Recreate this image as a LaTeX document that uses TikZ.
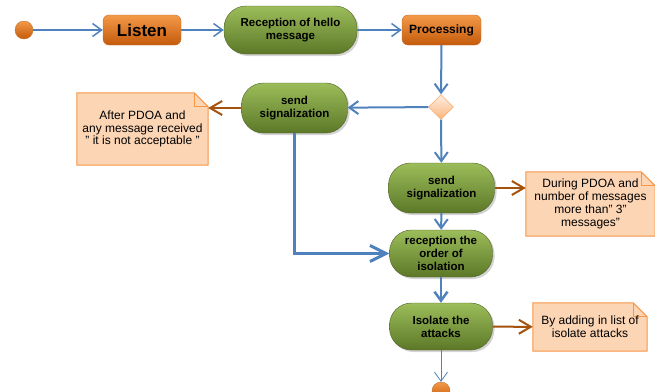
\documentclass[tikz,border=0pt]{standalone}
\usepackage{fontspec}
\setmainfont{Liberation Sans}
\usetikzlibrary{arrows.meta,shapes.geometric,shadows,backgrounds}

\definecolor{flowblue}{HTML}{4F81BD}
\definecolor{notebrown}{HTML}{A5520F}
\definecolor{orangetop}{HTML}{F39A48}
\definecolor{orangebot}{HTML}{C45A0C}
\definecolor{orangeline}{HTML}{C0702E}
\definecolor{greentop}{HTML}{9CBD5A}
\definecolor{greenbot}{HTML}{5C7828}
\definecolor{greenline}{HTML}{4F6228}
\definecolor{notefill}{HTML}{FCD5B5}
\definecolor{noteline}{HTML}{F79646}

\tikzset{
  stepbox/.style={rectangle, rounded corners=6pt, draw=orangeline, top color=orangetop,
    bottom color=orangebot, minimum height=30pt, inner sep=2pt,
    font=\fontsize{12}{12}\selectfont\bfseries},
  action/.style={rectangle, rounded corners=22pt, draw=greenline, top color=greentop,
    bottom color=greenbot, minimum height=48pt, inner sep=2pt, align=center,
    font=\fontsize{11.5}{13}\selectfont\bfseries,
    drop shadow={shadow xshift=2pt, shadow yshift=-2pt, opacity=0.35}},
  notebox/.style={rectangle, inner sep=2pt, align=center,
    font=\fontsize{12}{12.8}\selectfont},
  decision/.style={diamond, draw=noteline, top color=notefill!40,
    bottom color=noteline!70, minimum width=25pt, minimum height=25pt, inner sep=0pt},
  dot/.style={circle, draw=orangeline, top color=orangetop, bottom color=orangebot,
    minimum size=18pt, inner sep=0pt},
  flow/.style={draw=flowblue, line width=1.5pt,
    -{Straight Barb[length=9pt, width=13pt]}},
  remark/.style={draw=notebrown, line width=2pt,
    -{Straight Barb[length=12pt, width=14pt]}},
}

\begin{document}
\begin{tikzpicture}[x=1pt, y=-1pt]
  \useasboundingbox (0,0) rectangle (655,391);
  % nodes
  \node (start) at (24,30) [dot] {};
  \node (listen) at (142,30) [stepbox, minimum width=78pt,
    font=\fontsize{17}{17}\selectfont\bfseries] {Listen};
  \node (hello) at (290.5,30) [action, minimum width=133pt] {Reception of hello\\message};
  \node (proc) at (441.5,30) [stepbox, minimum width=79pt] {Processing};
  \node (choice) at (441,107) [decision] {};
  \node (send1) at (294.5,108) [action, minimum width=106pt, minimum height=50pt] {send\\signalization};
  \node (note1) at (142.5,129) [notebox, minimum width=131pt, minimum height=72pt]
    {After PDOA and\\any message received\\" it is not acceptable "};
  \node (send2) at (441.5,188) [action, minimum width=106pt, minimum height=50pt] {send\\signalization};
  \node (note2) at (590.5,204) [notebox, minimum width=129pt, minimum height=64pt]
    {During PDOA and\\number of messages\\more than" 3"\\messages"};
  \node (order) at (441,253.5) [action, minimum width=103pt, minimum height=47pt]
    {reception the\\order of\\isolation};
  \node (isolate) at (441,326.5) [action, minimum width=103pt, minimum height=47pt]
    {Isolate the\\attacks};
  \node (note3) at (590,327) [notebox, minimum width=114pt, minimum height=48pt]
    {By adding in list of\\isolate attacks};
  \node (stop) at (441,391) [dot] {};
  % note outlines with folded corner
  \begin{scope}[on background layer]
    \foreach \n in {note1, note2, note3} {
      \draw[noteline, fill=notefill, line width=1pt] (\n.south west) -- (\n.north west)
        -- ([xshift=-14pt]\n.north east) -- ([yshift=-14pt]\n.north east)
        -- (\n.south east) -- cycle;
      \draw[noteline, line width=1pt] ([xshift=-14pt]\n.north east)
        -- ([xshift=-14pt, yshift=-14pt]\n.north east) -- ([yshift=-14pt]\n.north east);
    }
  \end{scope}
  % connectors
  \draw[flow] (start) -- (listen);
  \draw[flow] (listen) -- (hello);
  \draw[flow] (hello) -- (proc);
  \draw[flow, line width=2pt] (proc) -- (choice);
  \draw[flow, line width=2pt] (choice) -- (send1);
  \draw[remark] (send1.west) -- (send1.west -| note1.east);
  \draw[flow, line width=2pt] (choice) -- (send2);
  \draw[remark] (send2.east) -- (send2.east -| note2.west);
  \draw[flow, line width=2pt] (send2) -- (order);
  \draw[flow, line width=3pt, -{Straight Barb[length=16pt, width=16pt]}]
    (send1.south) |- (order.west);
  \draw[flow, line width=2.5pt] (order) -- (isolate);
  \draw[remark] (isolate) -- (note3);
  \draw[flow, line width=0.8pt] (isolate) -- (stop);
\end{tikzpicture}
\end{document}
